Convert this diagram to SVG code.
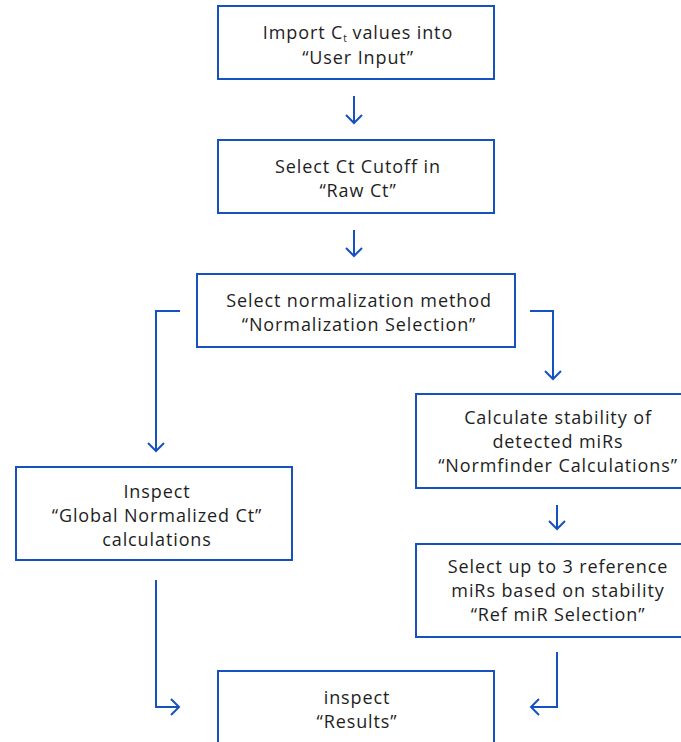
<svg xmlns="http://www.w3.org/2000/svg" width="681" height="742" viewBox="0 0 681 742">
<style>
.box{fill:#fff;stroke:#1651c1;stroke-width:2}
.t{font-family:"Open Sans","Liberation Sans",sans-serif;font-size:18px;letter-spacing:0.9px;fill:#1e1e1e;text-anchor:middle}
.c{fill:none;stroke:#1651c1;stroke-width:2}
</style>
<defs>
<marker id="ah" viewBox="0 0 20 20" refX="10" refY="10" markerWidth="20" markerHeight="20" markerUnits="userSpaceOnUse" orient="auto">
<path d="M2,2 L10,10 L2,18" fill="none" stroke="#1651c1" stroke-width="2"/>
</marker>
</defs>
<rect width="681" height="742" fill="#fff"/>
<g id="connectors">
<path class="c" d="M354,96 V123" marker-end="url(#ah)"/>
<path class="c" d="M354,230 V256" marker-end="url(#ah)"/>
<path class="c" d="M180,311 H156 V451" marker-end="url(#ah)"/>
<path class="c" d="M530,311 H553 V379" marker-end="url(#ah)"/>
<path class="c" d="M557,505 V529" marker-end="url(#ah)"/>
<path class="c" d="M156,580 V707 H179" marker-end="url(#ah)"/>
<path class="c" d="M557,652 V707 H531" marker-end="url(#ah)"/>
</g>
<g id="n1">
<rect class="box" x="218" y="6" width="276" height="73"/>
<text class="t" x="358" y="39">Import C<tspan font-size="10" letter-spacing="0" dy="3">t</tspan><tspan dy="-3"> values into</tspan></text>
<text class="t" x="358" y="64">“User Input”</text>
</g>
<g id="n2">
<rect class="box" x="218" y="140" width="276" height="73"/>
<text class="t" x="358" y="173">Select Ct Cutoff in</text>
<text class="t" x="358" y="197">“Raw Ct”</text>
</g>
<g id="n3">
<rect class="box" x="197" y="274" width="318" height="73"/>
<text class="t" x="359" y="307">Select normalization method</text>
<text class="t" x="359" y="331">“Normalization Selection”</text>
</g>
<g id="n4">
<rect class="box" x="416" y="394" width="280" height="94"/>
<text class="t" x="558" y="424">Calculate stability of</text>
<text class="t" x="558" y="448">detected miRs</text>
<text class="t" x="558" y="472">“Normfinder Calculations”</text>
</g>
<g id="n5">
<rect class="box" x="16" y="467" width="276" height="93"/>
<text class="t" x="157" y="498">Inspect</text>
<text class="t" x="157" y="522">“Global Normalized Ct”</text>
<text class="t" x="157" y="546">calculations</text>
</g>
<g id="n6">
<rect class="box" x="416" y="544" width="280" height="93"/>
<text class="t" x="558" y="573">Select up to 3 reference</text>
<text class="t" x="558" y="597">miRs based on stability</text>
<text class="t" x="558" y="621">“Ref miR Selection”</text>
</g>
<g id="n7">
<rect class="box" x="218" y="671" width="276" height="90"/>
<text class="t" x="357" y="704">inspect</text>
<text class="t" x="357" y="728">“Results”</text>
</g>
</svg>
